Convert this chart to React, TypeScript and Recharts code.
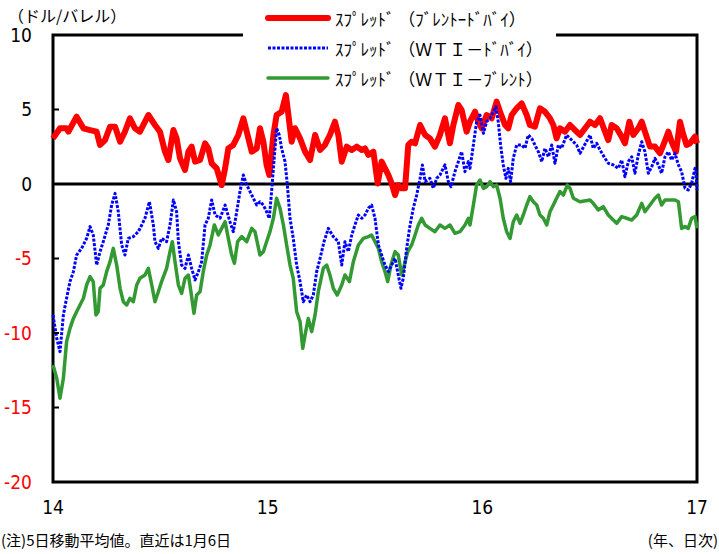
import React from 'react';
import { LineChart, Line, XAxis, YAxis, ReferenceLine, ReferenceArea } from 'recharts';

const NUM_FONT = '"Liberation Sans Narrow", "DejaVu Sans Condensed", "Liberation Sans", sans-serif';
const JP_FONT = '"Noto Sans CJK JP", "Noto Sans CJK SC", sans-serif';

// x = months since Jan 2014, ticks at each new year
const yearTicks = [0, 12, 24, 36];
const yearLabels = ['14', '15', '16', '17'];
const valueTicks = [-20, -15, -10, -5, 0, 5, 10];

// [month, USD/bbl]
const brentDubai: [number, number][] = [
  [0, 3.06], [0.39, 3.74], [0.76, 3.74], [0.86, 3.51], [1.32, 4.52], [1.7, 3.74], [2.07, 3.62], [2.44, 3.51],
  [2.63, 2.62], [2.91, 2.95], [3.19, 3.85], [3.47, 3.85], [3.75, 2.84], [4.02, 3.51], [4.3, 4.41], [4.58, 3.74],
  [4.86, 3.51], [5.33, 4.63], [5.7, 3.96], [5.98, 3.51], [6.26, 2.17], [6.45, 1.61], [6.73, 3.62], [6.91, 3.06],
  [7.1, 1.72], [7.38, 0.94], [7.57, 2.17], [7.75, 2.51], [7.94, 1.5], [8.22, 1.61], [8.5, 2.73], [8.68, 2.39],
  [8.87, 1.39], [9.15, 1.05], [9.43, -0.07], [9.62, 1.05], [9.8, 2.39], [10.08, 2.62], [10.36, 3.29], [10.64, 4.41],
  [10.83, 3.51], [11.11, 2.17], [11.39, 2.39], [11.57, 3.74], [11.76, 2.84], [11.94, 1.27], [12.09, 0.6], [12.32, 3.29],
  [12.5, 4.63], [12.78, 4.85], [13.02, 5.97], [13.16, 4.63], [13.34, 2.84], [13.53, 3.74], [13.81, 3.06], [14.09, 2.17],
  [14.37, 1.61], [14.65, 3.29], [14.93, 2.28], [15.2, 2.62], [15.48, 3.29], [15.76, 4.18], [15.95, 3.29], [16.14, 1.5],
  [16.42, 2.51], [16.7, 2.28], [16.98, 2.51], [17.26, 2.28], [17.44, 2.39], [17.63, 1.95], [17.91, 2.17], [18.15, 0.04],
  [18.37, 1.5], [18.56, 1.05], [18.75, 0.6], [18.93, 0.04], [19.12, -0.74], [19.3, -0.07], [19.49, -0.29], [19.68, -0.29],
  [19.86, 2.62], [20.05, 2.84], [20.24, 2.73], [20.52, 3.96], [20.8, 3.29], [21.07, 3.06], [21.35, 2.51], [21.63, 3.29],
  [21.91, 4.41], [22.19, 2.73], [22.38, 3.96], [22.66, 5.3], [22.84, 4.97], [23.12, 3.51], [23.31, 4.18], [23.59, 4.85],
  [23.78, 4.18], [23.96, 3.74], [24.24, 4.63], [24.52, 4.41], [24.8, 5.53], [24.99, 4.85], [25.27, 3.96], [25.45, 3.74],
  [25.64, 4.63], [25.92, 5.08], [26.2, 5.41], [26.48, 4.63], [26.66, 3.96], [26.94, 3.85], [27.22, 5.08], [27.5, 4.85],
  [27.78, 4.41], [27.97, 3.96], [28.15, 3.06], [28.34, 3.74], [28.62, 3.51], [28.9, 3.96], [29.18, 3.62], [29.46, 3.29],
  [30.02, 4.18], [30.3, 3.96], [30.58, 4.41], [30.86, 3.51], [31.04, 2.95], [31.23, 3.96], [31.51, 3.74], [31.79, 3.18],
  [31.97, 2.73], [32.22, 4.18], [32.44, 3.29], [32.72, 3.74], [32.91, 4.18], [33.09, 3.51], [33.37, 2.51], [33.65, 2.51],
  [33.93, 2.06], [34.12, 2.62], [34.4, 3.51], [34.58, 2.84], [34.83, 2.17], [35.05, 4.18], [35.24, 3.29], [35.42, 2.62],
  [35.61, 2.73], [35.89, 3.18], [36, 2.73],
];

const wtiDubai: [number, number][] = [
  [0, -8.79], [0.21, -10.36], [0.39, -11.25], [0.58, -8.79], [0.76, -7.67], [0.95, -6.55], [1.14, -5.88], [1.32, -4.77],
  [1.6, -4.32], [1.88, -3.65], [2.07, -2.86], [2.25, -3.42], [2.44, -5.44], [2.63, -4.54], [2.81, -3.87], [3.09, -2.75],
  [3.28, -1.41], [3.47, -0.63], [3.65, -1.86], [3.84, -4.09], [4.02, -4.77], [4.21, -3.65], [4.49, -3.53], [4.77, -3.2],
  [4.96, -2.75], [5.14, -2.3], [5.39, -1.19], [5.61, -2.75], [5.7, -3.87], [5.89, -4.32], [6.07, -3.65], [6.35, -3.87],
  [6.54, -2.75], [6.73, -1.07], [6.91, -1.86], [7.01, -3.87], [7.19, -5.44], [7.38, -5.66], [7.57, -4.77], [7.75, -5.66],
  [7.94, -6.44], [8.13, -5.88], [8.31, -5.21], [8.5, -2.75], [8.68, -2.3], [8.87, -1.07], [9.06, -2.08], [9.34, -2.3],
  [9.62, -1.41], [9.89, -2.53], [10.08, -3.2], [10.27, -1.86], [10.45, -0.51], [10.64, 0.6], [10.83, -0.07], [11.11, -0.74],
  [11.39, -1.41], [11.57, -1.19], [11.76, -1.41], [11.94, -1.86], [12.09, -2.3], [12.22, -0.51], [12.35, 1.5], [12.5, 3.74],
  [12.65, 3.29], [12.78, 2.39], [12.97, 1.5], [13.1, -0.07], [13.25, -2.3], [13.43, -3.65], [13.62, -5.44], [13.81, -6.55],
  [13.99, -7.9], [14.18, -7.45], [14.37, -7.9], [14.55, -7.45], [14.74, -5.88], [14.93, -4.99], [15.15, -3.87], [15.39, -2.98],
  [15.67, -3.53], [15.95, -3.87], [16.14, -5.44], [16.32, -3.87], [16.51, -4.54], [16.7, -3.42], [16.88, -2.75], [17.07, -2.08],
  [17.26, -2.3], [17.44, -2.08], [17.63, -1.63], [17.81, -1.41], [18.0, -2.3], [18.19, -4.09], [18.37, -4.77], [18.56, -5.44],
  [18.75, -5.88], [18.93, -5.44], [19.12, -4.99], [19.3, -6.11], [19.45, -7.0], [19.58, -6.33], [19.77, -4.32], [19.96, -2.75],
  [20.14, -1.63], [20.33, -0.74], [20.52, 0.38], [20.65, 1.28], [20.8, 0.16], [21.07, 0.38], [21.26, -0.29], [21.45, 0.38],
  [21.63, 0.6], [21.91, 1.28], [22.1, 0.16], [22.25, -0.18], [22.47, 0.83], [22.66, 1.5], [22.84, 2.17], [23.03, 0.83],
  [23.22, 1.5], [23.31, 1.05], [23.5, 2.62], [23.68, 4.18], [23.87, 4.63], [24.06, 3.4], [24.24, 4.18], [24.43, 4.41],
  [24.61, 4.85], [24.76, 5.19], [24.89, 4.18], [25.02, 2.62], [25.17, 1.28], [25.32, 0.38], [25.45, 1.05], [25.58, 0.16],
  [25.73, 1.72], [25.92, 2.62], [26.2, 2.62], [26.38, 2.39], [26.57, 3.29], [26.76, 3.06], [26.94, 2.62], [27.13, 2.17],
  [27.32, 1.5], [27.5, 2.39], [27.69, 1.83], [27.88, 2.62], [28.06, 1.39], [28.25, 2.62], [28.43, 2.39], [28.71, 3.29],
  [28.99, 2.95], [29.27, 2.62], [29.46, 2.06], [30.02, 3.29], [30.2, 2.39], [30.39, 2.73], [30.58, 2.28], [30.86, 1.72],
  [31.04, 1.39], [31.32, 1.28], [31.6, 1.05], [31.79, 1.61], [31.97, 0.49], [32.16, 1.5], [32.35, 1.83], [32.53, 0.72],
  [32.72, 1.95], [32.91, 2.84], [33.09, 2.17], [33.28, 0.72], [33.47, 1.16], [33.65, 1.72], [33.84, 1.28], [34.02, 0.72],
  [34.21, 1.83], [34.4, 2.17], [34.58, 1.61], [34.77, 2.06], [34.96, 1.28], [35.14, 0.83], [35.33, -0.29], [35.51, -0.4],
  [35.7, 0.04], [35.89, 1.05], [35.94, 0.9], [36, -0.4],
];

const wtiBrent: [number, number][] = [
  [0, -12.15], [0.21, -13.04], [0.39, -14.38], [0.58, -13.04], [0.76, -10.58], [0.95, -9.69], [1.14, -9.02], [1.32, -8.57],
  [1.51, -8.12], [1.7, -7.67], [1.88, -6.78], [2.07, -6.22], [2.25, -6.55], [2.4, -8.79], [2.53, -8.57], [2.63, -7.0],
  [2.81, -6.78], [3.0, -5.88], [3.19, -5.21], [3.37, -4.32], [3.56, -5.44], [3.75, -7.0], [3.93, -7.9], [4.12, -8.12],
  [4.3, -7.67], [4.49, -7.9], [4.68, -6.78], [4.86, -6.33], [5.14, -6.11], [5.33, -5.66], [5.52, -6.78], [5.7, -7.9],
  [5.89, -7.23], [6.07, -6.55], [6.35, -5.66], [6.54, -4.54], [6.67, -3.87], [6.82, -5.21], [7.01, -6.78], [7.19, -7.34],
  [7.38, -6.33], [7.57, -6.11], [7.71, -7.23], [7.88, -8.68], [8.03, -7.45], [8.22, -7.23], [8.4, -5.88], [8.59, -4.77],
  [8.78, -4.09], [9.02, -2.75], [9.24, -3.42], [9.43, -2.98], [9.62, -2.53], [9.8, -3.65], [9.99, -4.77], [10.14, -5.32],
  [10.32, -3.87], [10.55, -3.53], [10.83, -3.87], [11.11, -2.98], [11.29, -3.2], [11.57, -4.77], [11.76, -4.54], [11.94, -3.87],
  [12.13, -3.2], [12.32, -2.3], [12.5, -0.96], [12.69, -1.63], [12.88, -2.75], [13.06, -4.09], [13.25, -5.44], [13.43, -6.33],
  [13.62, -8.57], [13.81, -9.24], [13.96, -11.03], [14.09, -10.13], [14.27, -9.02], [14.46, -9.91], [14.65, -8.79], [14.83, -7.23],
  [15.11, -5.66], [15.3, -5.44], [15.48, -6.11], [15.67, -7.0], [15.89, -7.45], [16.14, -6.78], [16.32, -6.11], [16.57, -6.55],
  [16.79, -5.21], [17.07, -4.09], [17.35, -3.65], [17.63, -3.53], [17.81, -3.42], [18.0, -3.87], [18.19, -4.32], [18.37, -5.21],
  [18.56, -5.88], [18.71, -6.55], [18.89, -5.44], [19.12, -4.54], [19.3, -4.77], [19.49, -6.11], [19.64, -5.44], [19.83, -4.54],
  [20.05, -4.09], [20.24, -3.42], [20.42, -2.75], [20.61, -2.3], [20.8, -2.75], [21.07, -2.98], [21.35, -3.2], [21.63, -2.75],
  [21.91, -2.98], [22.19, -2.75], [22.47, -3.31], [22.75, -3.2], [23.03, -2.75], [23.22, -2.3], [23.31, -2.75], [23.5, -1.41],
  [23.68, -0.07], [23.87, 0.27], [24.06, -0.29], [24.24, -0.18], [24.43, 0.16], [24.61, -0.18], [24.8, -0.07], [24.99, -0.96],
  [25.17, -2.3], [25.36, -3.2], [25.55, -3.65], [25.73, -2.53], [25.92, -2.08], [26.11, -2.64], [26.29, -2.08], [26.48, -1.41],
  [26.66, -0.85], [26.85, -1.19], [27.04, -1.41], [27.22, -2.08], [27.41, -2.3], [27.6, -2.75], [27.78, -1.86], [27.97, -1.41],
  [28.15, -0.96], [28.34, -0.51], [28.53, -0.74], [28.75, -0.07], [28.9, -0.29], [29.09, -0.96], [29.27, -1.07], [29.46, -1.19],
  [30.02, -1.07], [30.2, -1.3], [30.48, -1.74], [30.76, -1.52], [31.04, -2.08], [31.32, -2.42], [31.51, -2.64], [31.79, -2.19],
  [32.07, -2.3], [32.35, -2.42], [32.63, -2.08], [32.91, -1.3], [33.09, -1.86], [33.37, -1.41], [33.65, -0.96], [33.84, -0.74],
  [34.02, -1.41], [34.21, -1.07], [34.49, -1.07], [34.77, -1.07], [34.96, -1.19], [35.14, -2.98], [35.33, -2.86], [35.51, -2.98],
  [35.7, -2.3], [35.89, -2.19], [36, -2.98],
];

const series = [
  { key: 'bd', name: 'ｽﾌﾟﾚｯﾄﾞ （ﾌﾞﾚﾝﾄｰﾄﾞﾊﾞｲ）', points: brentDubai, color: '#ff0000', width: 6, dash: undefined },
  { key: 'wb', name: 'ｽﾌﾟﾚｯﾄﾞ （ＷＴＩ－ﾌﾞﾚﾝﾄ）', points: wtiBrent, color: '#339933', width: 3.5, dash: undefined },
  { key: 'wd', name: 'ｽﾌﾟﾚｯﾄﾞ （ＷＴＩ－ﾄﾞﾊﾞｲ）', points: wtiDubai, color: '#0000ff', width: 3, dash: '3 1.5' },
];
// legend order differs from draw order
const legendOrder = ['bd', 'wd', 'wb'];

// negative values are printed in red
const labelColor = (v: number) => (v < 0 ? '#ff0000' : '#000000');

const YTick = (p: any) => {
  const v = Number(p.payload?.value);
  const color = labelColor(v);
  return (
    <text x={p.x} y={p.y} dy="0.36em" textAnchor="end" fontSize={19} fontFamily={NUM_FONT} fill={color} style={{ fill: color }}>
      {String(v)}
    </text>
  );
};

const App: React.FC = () => {
  return (
    <div style={{ position: 'absolute', left: 0, top: 0, width: 719, height: 554, background: '#fff' }}>
      <LineChart width={719} height={554} margin={{ top: 35, right: 22, bottom: 42, left: 0 }}>
        <XAxis
          dataKey="m"
          type="number"
          domain={[0, 36]}
          ticks={yearTicks}
          tickFormatter={(v: number) => yearLabels[yearTicks.indexOf(v)]}
          axisLine={false}
          tickLine={false}
          tickSize={0}
          tickMargin={19}
          height={30}
          tick={{ fill: '#000', fontSize: 19, fontFamily: NUM_FONT }}
          allowDuplicatedCategory={false}
        />
        <YAxis
          type="number"
          domain={[-20, 10]}
          ticks={valueTicks}
          width={53}
          axisLine={false}
          tickSize={-6}
          tickMargin={27}
          tickLine={{ stroke: '#000', strokeWidth: 2 }}
          interval={0}
          tick={YTick}
        />
        <ReferenceArea x1={0} x2={36} y1={-20} y2={10} fill="none" stroke="#000" strokeWidth={3} ifOverflow="visible" />
        <ReferenceLine y={0} stroke="#000" strokeWidth={3} />
        {series.map((s) => (
          <Line
            key={s.key}
            data={s.points.map(([m, v]) => ({ m, v }))}
            dataKey="v"
            name={s.name}
            type="linear"
            stroke={s.color}
            strokeWidth={s.width}
            strokeDasharray={s.dash}
            strokeLinejoin="round"
            dot={false}
            isAnimationActive={false}
          />
        ))}
      </LineChart>

      <div style={{ position: 'absolute', left: 8, top: 5, fontSize: 16, fontFamily: JP_FONT, color: '#000', lineHeight: '20px' }}>
        （ドル/バレル）
      </div>

      <div style={{ position: 'absolute', left: 243, top: 2, width: 313, height: 90, background: '#fff' }}>
        {legendOrder.map((k, i) => {
          const s = series.find((d) => d.key === k)!;
          return (
            <div key={k} style={{ position: 'absolute', left: 0, top: 4 + i * 30, height: 24, display: 'flex', alignItems: 'center' }}>
              <svg width={92} height={24}>
                <line x1={25} x2={85} y1={12} y2={12} stroke={s.color} strokeWidth={s.width} strokeDasharray={s.dash} strokeLinecap={s.dash ? 'butt' : 'round'} />
              </svg>
              <span style={{ fontSize: 17, fontFamily: JP_FONT, whiteSpace: 'pre', color: '#000' }}>{s.name}</span>
            </div>
          );
        })}
      </div>

      <div style={{ position: 'absolute', left: 1, top: 529, fontSize: 15, fontFamily: JP_FONT, color: '#000' }}>
        (注)5日移動平均値。直近は1月6日
      </div>
      <div style={{ position: 'absolute', right: 1, top: 529, fontSize: 15, fontFamily: JP_FONT, color: '#000' }}>
        (年、日次)
      </div>
    </div>
  );
};

export default App;
